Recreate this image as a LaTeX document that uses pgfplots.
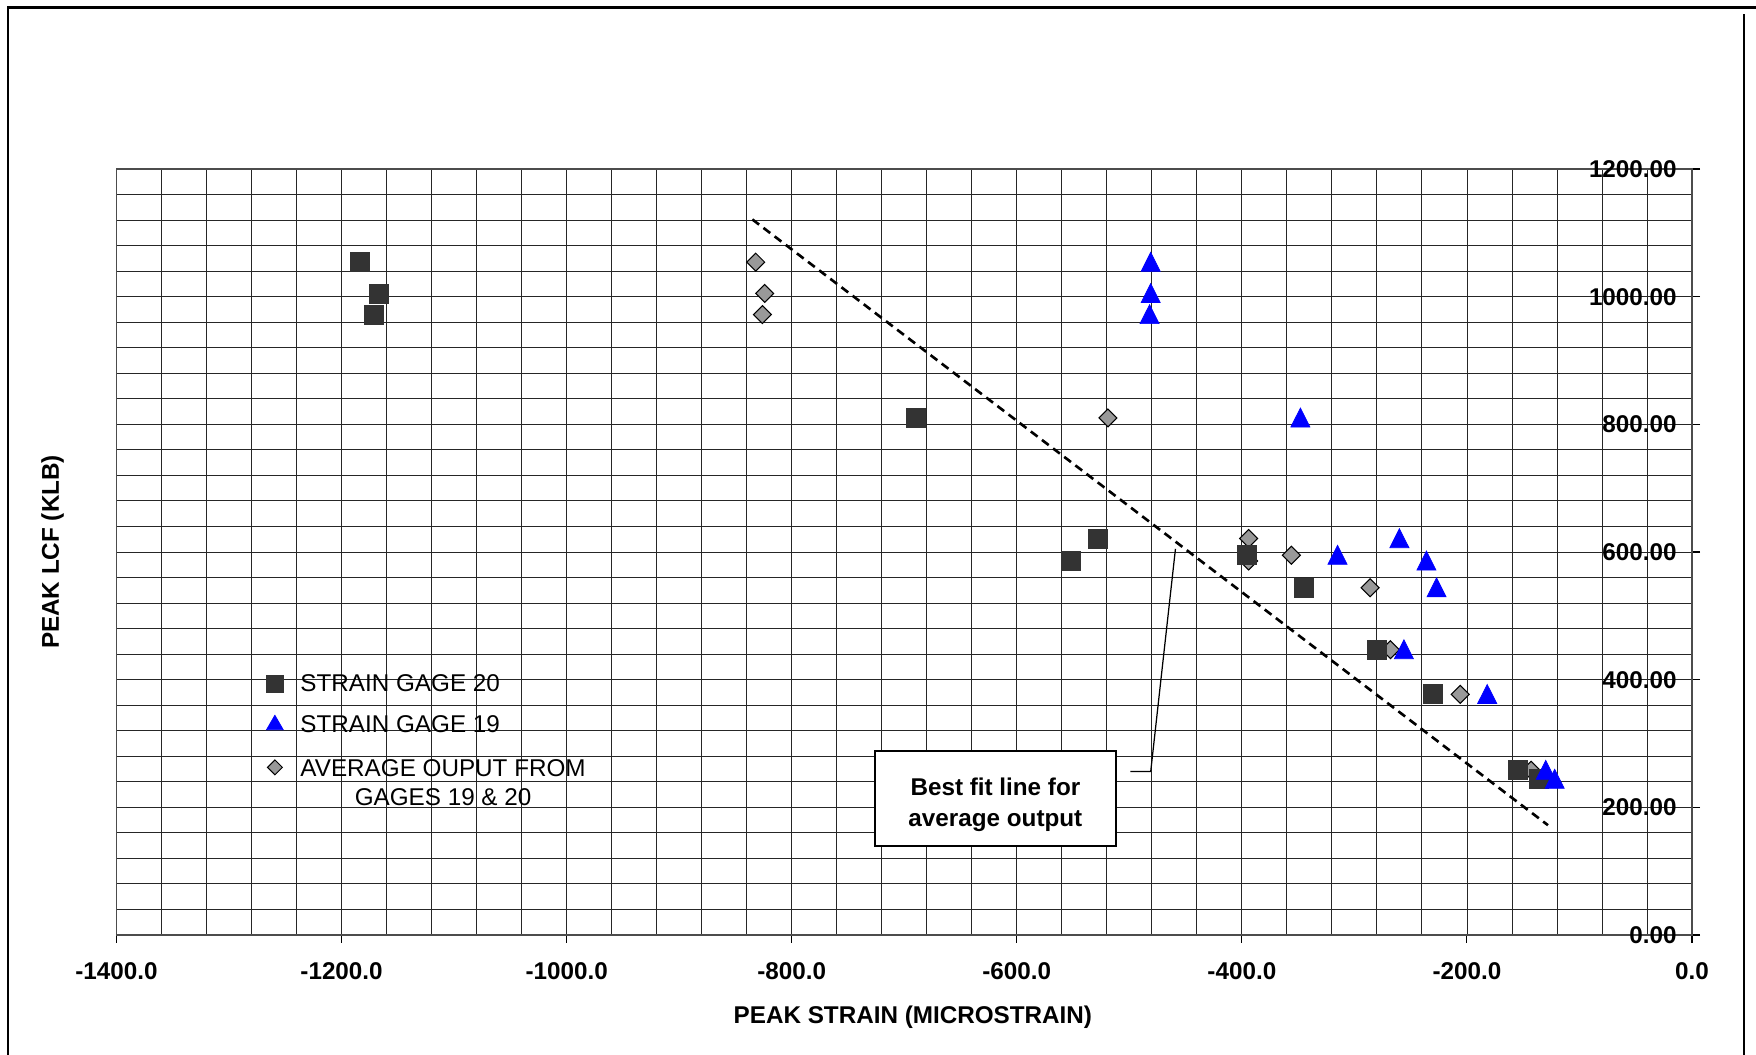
\documentclass[border=0pt]{standalone}
\usepackage{pgfplots}
\pgfplotsset{compat=1.18}
\usepackage{fontspec}
\setmainfont{Liberation Sans}
\definecolor{sqfill}{HTML}{333333}
\definecolor{dmfill}{HTML}{999999}
\definecolor{triblue}{HTML}{0000FF}
\newcommand{\fs}{\fontsize{13.8}{16.5}\selectfont}

\pgfplotstableread{
x y
-1184 1054
-1167 1005
-1171 972
-690 810
-552 586
-528 621
-396 595
-345 544
-280 447
-230 377
-155 258
-136 244
}\sgtwenty

\pgfplotstableread{
x y
-481 1054
-481 1005
-482 972
-348 810
-236 586
-260 621
-315 595
-227 544
-256 447
-182 377
-130 258
-122 244
}\sgnineteen

\pgfplotstableread{
x y
-832 1054
-824 1005
-826 972
-519 810
-394 586
-394 621
-356 595
-286 544
-268 447
-206 377
-143 258
-129 244
}\sgavg

\begin{document}
\begin{tikzpicture}
\begin{axis}[
  scale only axis,
  width=315.1mm, height=153.2mm,
  xmin=-1400, xmax=0, ymin=0, ymax=1200,
  xtick={-1400,-1200,...,0},
  ytick={0,200,...,1200},
  minor x tick num=4, minor y tick num=4,
  grid=both,
  major grid style={black!85, line width=0.5pt},
  minor grid style={black!85, line width=0.5pt},
  axis line style={black!70, line width=0.9pt},
  tick align=outside,
  major tick length=1.6mm,
  minor tick length=0pt,
  xtick pos=left,
  ytick pos=right,
  yticklabel pos=right,
  tick style={black, line width=0.6pt},
  clip=false,
  /pgf/number format/assume math mode=true,
  x tick label style={font=\fs\bfseries, anchor=center, inner sep=0pt, yshift=-5.63mm,
    /pgf/number format/fixed, /pgf/number format/fixed zerofill,
    /pgf/number format/precision=1, /pgf/number format/1000 sep={}},
  y tick label style={font=\fs\bfseries, anchor=east, inner sep=0pt, xshift=-4.6mm,
    /pgf/number format/fixed, /pgf/number format/fixed zerofill,
    /pgf/number format/precision=2, /pgf/number format/1000 sep={}},
  legend cell align=left,
  legend style={draw=none, fill=none, font=\fs, inner sep=0pt,
    nodes={inner sep=0pt}, row sep=4.25mm, column sep=3.45mm,
    at={(axis cs:-1267,409)}, anchor=north west},
]
\addplot[black, line width=1.5pt, dash pattern=on 1.7mm off 1.1mm, forget plot]
  coordinates {(-835,1121) (-128,172)};

\addplot[only marks, mark=square*, mark size=1.27mm, mark options={rotate=45, fill=dmfill, draw=black, line width=0.6pt}, forget plot]
  table {\sgavg};
\addplot[only marks, mark=square*, mark size=1.9mm, mark options={fill=sqfill, draw=sqfill}, forget plot]
  table {\sgtwenty};
\addplot[only marks, mark=triangle*, mark size=2.2mm, mark options={fill=triblue, draw=triblue, yshift=-0.55mm, yscale=1.15}, forget plot]
  table {\sgnineteen};

\addlegendimage{only marks, mark=square*, mark size=1.67mm, mark options={fill=sqfill, draw=sqfill}}
\addlegendentry{STRAIN GAGE 20}
\addlegendimage{only marks, mark=triangle*, mark size=1.93mm, mark options={fill=triblue, draw=triblue}}
\addlegendentry{STRAIN GAGE 19}
\addlegendimage{only marks, mark=square*, mark size=1.06mm, mark options={rotate=45, fill=dmfill, draw=black, line width=0.6pt}}
\addlegendentry{\begin{tabular}[t]{@{}c@{}}AVERAGE OUPUT FROM\\GAGES 19 \& 20\end{tabular}}

\draw[black, line width=0.7pt] (axis cs:-499,256) -- (axis cs:-481,256) -- (axis cs:-459,605);
\draw[black, line width=0.9pt, fill=white] (axis cs:-726,288) rectangle (axis cs:-512,139);
\node[font=\fs\bfseries, align=center] at (axis cs:-619,204.5) {Best fit line for\\[1pt]average output};

\node[font=\fs\bfseries] at ([yshift=-16.4mm]axis description cs:0.5055,0) {PEAK STRAIN (MICROSTRAIN)};
\node[font=\fs\bfseries, rotate=90] at ([xshift=-12.8mm]axis description cs:0,0.5) {PEAK LCF (KLB)};
\end{axis}
\pgfresetboundingbox
\path[use as bounding box] (-23.3mm,-24.0mm) rectangle (327.9mm,187.0mm);
\draw[line width=1.3pt] (-21.7mm,-24mm) -- (-21.7mm,185.5mm) -- (327.9mm,185.5mm);
\draw[line width=0.8pt] (325.5mm,-24mm) -- (325.5mm,184.2mm);
\end{tikzpicture}
\end{document}
